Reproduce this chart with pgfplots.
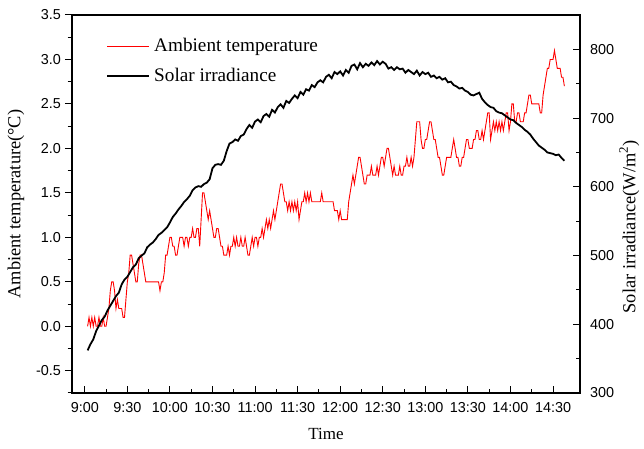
\documentclass[border=0pt]{standalone}
\usepackage{fontspec}
\setmainfont{Liberation Serif}
\setsansfont{Liberation Sans}
\usepackage{pgfplots}
\pgfplotsset{compat=1.18}
\usepackage{pgfplotstable}

\pgfplotstableread{
t T
2 0.0
3 0.1
4 0.0
5 0.1
6 0.0
7 0.1
8 0.0
9 0.0
10 0.1
11 0.0
12 0.0
13 0.1
14 0.0
15 0.0
16 0.1
17 0.2
18 0.4
19 0.5
20 0.5
21 0.4
22 0.2
23 0.3
24 0.2
25 0.2
26 0.2
27 0.1
28 0.1
29 0.3
30 0.5
31 0.6
32 0.8
33 0.8
34 0.7
35 0.6
36 0.5
37 0.5
38 0.7
39 0.8
40 0.8
41 0.7
42 0.6
43 0.5
44 0.5
46 0.5
48 0.5
50 0.5
52 0.5
53 0.4
54 0.5
55 0.5
56 0.6
57 0.8
58 0.8
59 0.9
60 1.0
61 1.0
62 0.9
63 0.9
64 0.8
65 0.8
66 0.9
67 1.0
68 1.0
69 1.0
70 0.9
71 1.0
72 1.0
73 0.9
74 1.0
75 1.0
76 1.1
77 1.0
78 1.0
79 1.1
80 1.1
81 0.9
82 1.2
83 1.5
84 1.5
85 1.4
86 1.3
87 1.2
88 1.3
89 1.2
90 1.1
91 1.0
92 1.0
93 1.1
94 1.1
95 1.0
96 0.9
97 0.9
98 0.8
99 0.8
100 0.8
101 0.9
102 0.8
103 0.9
104 0.9
105 1.0
106 0.9
107 1.0
108 0.9
109 0.9
110 1.0
111 0.9
112 0.9
113 1.0
114 0.9
115 0.8
116 0.8
117 0.9
118 1.0
119 0.9
120 1.0
121 1.0
122 0.9
123 1.0
124 1.0
125 1.1
126 1.0
127 1.1
128 1.2
129 1.1
130 1.2
131 1.1
132 1.2
133 1.3
134 1.2
135 1.3
136 1.4
137 1.5
138 1.6
139 1.6
140 1.5
141 1.4
142 1.4
143 1.3
144 1.4
145 1.3
146 1.4
147 1.3
148 1.4
149 1.3
150 1.4
151 1.2
152 1.3
153 1.4
154 1.4
155 1.5
156 1.4
157 1.5
158 1.4
159 1.5
160 1.4
162 1.4
164 1.4
166 1.4
167 1.5
168 1.4
170 1.4
172 1.4
174 1.4
175 1.4
176 1.3
177 1.3
178 1.3
179 1.2
180 1.3
181 1.2
182 1.2
183 1.2
184 1.2
185 1.2
186 1.4
187 1.5
188 1.6
189 1.7
190 1.6
191 1.7
192 1.8
193 1.9
194 1.9
195 1.8
196 1.7
197 1.6
198 1.6
199 1.7
200 1.7
201 1.7
202 1.8
203 1.7
204 1.7
205 1.7
206 1.8
207 1.7
208 1.8
209 1.9
210 1.9
211 1.8
212 1.9
213 2.0
214 2.0
215 1.9
216 1.8
217 1.7
218 1.8
219 1.7
220 1.7
221 1.7
222 1.8
223 1.7
224 1.7
225 1.8
226 1.8
227 1.9
228 1.8
229 1.8
230 1.9
231 1.8
232 1.9
233 2.1
234 2.3
235 2.3
236 2.3
237 2.1
238 2.0
239 2.0
240 2.1
241 2.1
242 2.2
243 2.3
244 2.3
245 2.2
246 2.1
247 2.1
248 2.0
249 1.9
250 1.9
251 1.8
252 1.7
253 1.7
254 1.8
255 1.9
256 1.9
257 1.9
258 1.9
259 2.0
260 2.1
261 2.0
262 1.9
263 1.9
264 1.8
265 1.8
266 1.9
267 1.9
268 2.0
269 2.1
270 2.1
271 2.0
272 2.0
273 2.0
274 2.1
275 2.1
276 2.2
277 2.2
278 2.1
279 2.1
280 2.2
281 2.1
282 2.2
283 2.3
284 2.4
285 2.4
286 2.1
287 2.2
288 2.3
289 2.2
290 2.3
291 2.2
292 2.3
293 2.2
294 2.3
295 2.2
296 2.3
297 2.4
298 2.4
299 2.2
300 2.3
301 2.5
302 2.5
303 2.3
304 2.3
305 2.4
306 2.4
307 2.3
308 2.3
309 2.3
310 2.4
311 2.4
312 2.5
313 2.6
314 2.6
315 2.5
316 2.5
318 2.5
320 2.5
321 2.4
322 2.4
323 2.6
324 2.7
325 2.8
326 2.9
327 2.9
328 3.0
329 3.0
330 3.0
331 3.1
332 3.0
333 2.9
334 2.9
335 2.9
336 2.8
337 2.8
338 2.7
}\temptable

\pgfplotstableread{
t I
2 362
4 371
6 378
8 390
10 398
12 406
14 411
16 420
18 427
20 434
22 441
24 446
26 458
28 465
30 469
32 476
34 483
36 487
38 496
40 500
42 503
44 512
46 516
48 519
50 524
52 530
54 533
56 537
58 541
60 548
62 556
64 561
66 567
68 572
70 578
72 582
74 587
76 595
78 599
80 601
82 600
84 604
86 606
88 611
90 627
92 632
94 633
96 632
98 638
100 652
102 663
104 665
106 669
108 667
110 674
112 676
114 684
116 690
118 686
120 695
122 698
124 694
126 703
128 706
130 702
132 712
134 708
136 716
138 720
140 715
142 725
144 722
146 728
148 733
150 729
152 738
154 734
156 742
158 740
160 748
162 745
164 752
166 755
168 752
170 760
172 763
174 758
176 767
178 764
180 768
182 762
184 770
186 766
188 776
190 778
192 771
194 780
196 774
198 779
200 776
202 781
204 777
206 783
208 778
210 782
212 779
214 772
216 774
218 770
220 774
222 771
224 772
226 766
228 770
230 767
232 764
234 769
236 762
238 767
240 764
242 766
244 760
246 762
248 758
250 760
252 756
254 758
256 752
258 753
260 748
262 746
264 743
266 744
268 740
270 738
272 734
274 733
276 735
278 737
280 728
282 723
284 719
286 716
288 715
290 710
292 708
294 707
296 704
298 701
300 698
302 697
304 693
306 690
308 687
310 683
312 680
314 676
316 670
318 665
320 660
322 657
324 654
326 650
328 649
330 648
332 646
334 647
336 642
338 638
}\irrtable

\begin{document}
\begin{tikzpicture}
\useasboundingbox (-36pt,-28pt) rectangle (286pt,196.5pt);
\pgfplotsset{
  every axis/.append style={
    scale only axis,
    at={(0pt,0pt)}, anchor=south west,
    width=254pt, height=189pt,
    xmin=-9, xmax=349,
    major tick length=3.5pt,
    minor tick length=2.2pt,
    tick style={black, line width=0.5pt},
    axis line style={line width=0.6pt},
    tick label style={font=\sffamily\fontsize{7.2}{8}\selectfont},
    /pgf/number format/assume math mode=true,
  }
}
\begin{axis}[
  name=main,
  ymin=-0.75, ymax=3.5,
  ytick={-0.5,0,0.5,1,1.5,2,2.5,3,3.5},
  minor ytick={-0.75,-0.25,0.25,0.75,1.25,1.75,2.25,2.75,3.25},
  ytick pos=left,
  ytick align=outside,
  xtick pos=bottom,
  xtick align=inside,
  xtick={0,30,60,90,120,150,180,210,240,270,300,330},
  xticklabels={9:00,9:30,10:00,10:30,11:00,11:30,12:00,12:30,13:00,13:30,14:00,14:30},
  minor xtick={15,45,75,105,135,165,195,225,255,285,315},
  xticklabel style={yshift=-1pt},
  yticklabel style={xshift=1.5pt, /pgf/number format/.cd, fixed, fixed zerofill, precision=1},
  xlabel={Time},
  ylabel={Ambient temperature(°C)},
  ylabel style={font=\fontsize{9.2}{10}\selectfont, yshift=-1pt},
  xlabel style={font=\fontsize{8.5}{10}\selectfont, yshift=-1pt},
  legend style={draw=none, fill=none, at={(0.055,0.96)}, anchor=north west,
    font=\fontsize{9.6}{11}\selectfont, row sep=2.5pt,
    /tikz/every even column/.append style={column sep=2pt}},
  legend cell align=left,
  legend image code/.code={\draw[#1] (0cm,0cm) -- (0.74cm,0cm);},
]
\addplot[red, line width=0.45pt] table[x=t, y=T] {\temptable};
\addlegendentry{Ambient temperature}
\addlegendimage{black, line width=0.9pt}
\addlegendentry{Solar irradiance}
\end{axis}
\begin{axis}[
  ymin=300, ymax=850,
  axis x line=none,
  axis y line*=right,
  ytick={300,400,500,600,700,800},
  minor ytick={350,450,550,650,750,850},
  ytick align=inside,
  yticklabel style={xshift=1.5pt},
  ylabel={Solar irradiance(W/m\textsuperscript{2})},
  ylabel style={font=\fontsize{9.2}{10}\selectfont, at={(axis description cs:1.097,0.44)}, anchor=center},
]
\addplot[black, line width=0.9pt] table[x=t, y=I] {\irrtable};
\end{axis}
\end{tikzpicture}
\end{document}
